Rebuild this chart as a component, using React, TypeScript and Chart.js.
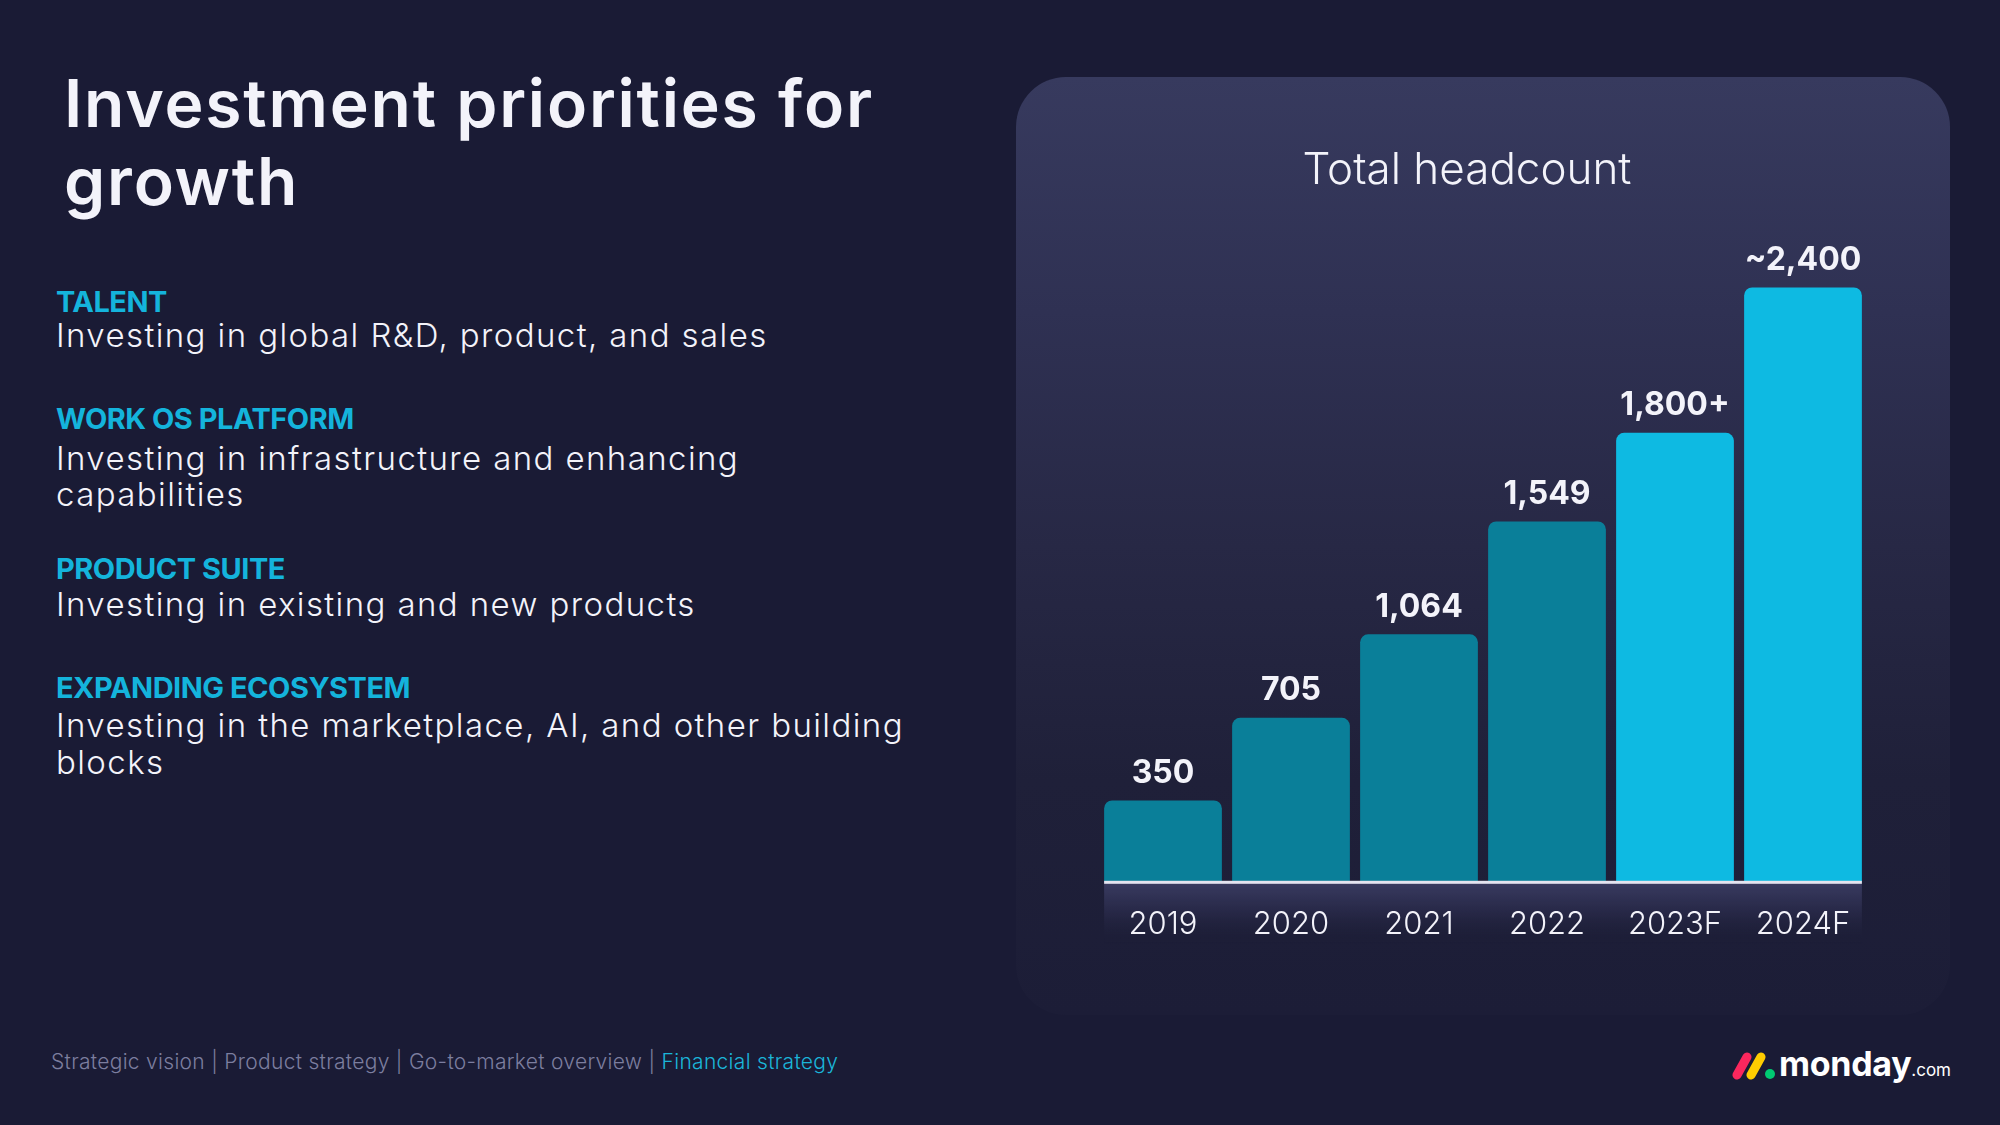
import React, { useEffect, useRef } from "react";
import { Chart, registerables } from "chart.js";

Chart.register(...registerables);

// ---- data ----
const years = ["2019", "2020", "2021", "2022", "2023F", "2024F"];
const headcount = [350, 705, 1064, 1549, 1930, 2555];
const valueLabels = ["350", "705", "1,064", "1,549", "1,800+", "~2,400"];
const isForecast = [false, false, false, false, true, true];
const chartTitle = "Total headcount";

const priorities = [
  { head: "TALENT", lines: ["Investing in global R&D, product, and sales"] },
  { head: "WORK OS PLATFORM", lines: ["Investing in infrastructure and enhancing", "capabilities"] },
  { head: "PRODUCT SUITE", lines: ["Investing in existing and new products"] },
  { head: "EXPANDING ECOSYSTEM", lines: ["Investing in the marketplace, AI, and other building", "blocks"] },
];
const headTops = [287, 404, 554, 673];
const bodyTops = [[319], [442, 478], [588], [709, 746]];

const footerItems = ["Strategic vision", "Product strategy", "Go-to-market overview", "Financial strategy"];

const BG = "#1A1B35";
const TEAL = "#0A7F99";
const CYAN = "#0EBAE2";
const WHITE = "#F3F3FA";
const FONT = "Inter, 'Noto Sans', sans-serif";

const decorPlugin = {
  id: "decorPlugin",
  beforeDraw(chart: any) {
    const meta = chart.getDatasetMeta(0);
    if (!meta.data.length) return;
    const first = meta.data[0];
    const last = meta.data[meta.data.length - 1];
    const x0 = first.x - first.width / 2;
    const x1 = last.x + last.width / 2;
    const yb = chart.chartArea.bottom;
    const ctx = chart.ctx;
    const g = ctx.createLinearGradient(0, yb, 0, yb + 62);
    g.addColorStop(0, "rgba(58,60,98,1)");
    g.addColorStop(0.5, "rgba(40,41,72,0.9)");
    g.addColorStop(1, "rgba(30,31,56,0.0)");
    ctx.save();
    ctx.fillStyle = g;
    ctx.fillRect(x0, yb, x1 - x0, 62);
    // chart title
    ctx.fillStyle = WHITE;
    ctx.font = `300 44px ${FONT}`;
    ctx.textAlign = "center";
    ctx.textBaseline = "middle";
    ctx.fillText(chartTitle, 451, 94);
    ctx.restore();
  },
  afterDatasetsDraw(chart: any) {
    const meta = chart.getDatasetMeta(0);
    const ctx = chart.ctx;
    const first = meta.data[0];
    const last = meta.data[meta.data.length - 1];
    const x0 = first.x - first.width / 2;
    const x1 = last.x + last.width / 2;
    const yb = chart.chartArea.bottom;
    ctx.save();
    ctx.fillStyle = "#E4E4F0";
    ctx.fillRect(x0, yb - 1, x1 - x0, 3);
    ctx.fillStyle = WHITE;
    ctx.font = `700 32px ${FONT}`;
    ctx.textAlign = "center";
    ctx.textBaseline = "middle";
    meta.data.forEach((bar: any, i: number) => {
      ctx.fillText(valueLabels[i], bar.x, bar.y - 27);
    });
    ctx.restore();
  },
};

function HeadcountChart() {
  const ref = useRef<HTMLCanvasElement | null>(null);
  useEffect(() => {
    if (!ref.current) return;
    const chart = new Chart(ref.current, {
      type: "bar",
      data: {
        labels: years,
        datasets: [
          {
            data: headcount,
            backgroundColor: isForecast.map((f) => (f ? CYAN : TEAL)),
            borderRadius: 8,
            barPercentage: 0.92,
            categoryPercentage: 1,
          },
        ],
      },
      options: {
        responsive: false,
        animation: false,
        layout: { padding: { left: 83, right: 83, top: 200, bottom: 48 } },
        plugins: {
          legend: { display: false },
          tooltip: { enabled: false },
          title: { display: false },
        },
        scales: {
          x: {
            grid: { display: false, drawTicks: false },
            border: { display: false },
            ticks: {
              color: WHITE,
              font: { family: FONT, size: 31, weight: "300", lineHeight: 1.2 },
              padding: 24,
            },
          },
          y: { display: false, min: 0, max: 2600 },
        },
      },
      plugins: [decorPlugin],
    });
    return () => chart.destroy();
  }, []);
  return (
    <canvas
      ref={ref}
      width={934}
      height={938}
      style={{ position: "absolute", left: 1016, top: 77, width: 934, height: 938 }}
    />
  );
}

function Logo() {
  return (
    <>
      <svg
        width={46}
        height={32}
        viewBox="0 0 46 32"
        style={{ position: "absolute", left: 1731, top: 1048 }}
      >
        <line x1={6} y1={27} x2={16} y2={9} stroke="#FB275D" strokeWidth={9} strokeLinecap="round" />
        <line x1={20} y1={27} x2={30} y2={9} stroke="#FFCC00" strokeWidth={9} strokeLinecap="round" />
        <circle cx={39} cy={26} r={5} fill="#00CA72" />
      </svg>
      <div
        style={{
          position: "absolute",
          left: 1779,
          top: 1047,
          fontFamily: FONT,
          fontWeight: 700,
          fontSize: 34,
          lineHeight: 1,
          color: "#FFFFFF",
          letterSpacing: -0.3,
          whiteSpace: "nowrap",
        }}
      >
        monday
        <span style={{ fontSize: 17, fontWeight: 400, letterSpacing: 0 }}>.com</span>
      </div>
    </>
  );
}

export default function App() {
  return (
    <div
      style={{
        position: "fixed",
        left: 0,
        top: 0,
        width: 2000,
        height: 1125,
        background: BG,
        overflow: "hidden",
        fontFamily: FONT,
      }}
    >
      {["Investment priorities for", "growth"].map((t, i) => (
        <div
          key={t}
          style={{
            position: "absolute",
            left: 64,
            top: 70 + i * 78,
            fontSize: 66,
            fontWeight: 600,
            lineHeight: 1,
            color: WHITE,
            whiteSpace: "nowrap",
            letterSpacing: 1.8,
          }}
        >
          {t}
        </div>
      ))}

      {priorities.map((p, i) => (
        <React.Fragment key={p.head}>
          <div
            style={{
              position: "absolute",
              left: 56,
              top: headTops[i],
              fontSize: 29,
              fontWeight: 700,
              lineHeight: 1,
              color: "#14B4DC",
              whiteSpace: "nowrap",
              letterSpacing: -0.5,
            }}
          >
            {p.head}
          </div>
          {p.lines.map((l, j) => (
            <div
              key={l}
              style={{
                position: "absolute",
                left: 56,
                top: bodyTops[i][j],
                fontSize: 33,
                fontWeight: 300,
                lineHeight: 1,
                color: WHITE,
                whiteSpace: "nowrap",
                letterSpacing: 1.4,
              }}
            >
              {l}
            </div>
          ))}
        </React.Fragment>
      ))}

      <div
        style={{
          position: "absolute",
          left: 51,
          top: 1051,
          fontSize: 21,
          fontWeight: 300,
          lineHeight: 1,
          color: "#7C7E9F",
          whiteSpace: "nowrap",
          letterSpacing: 0.3,
        }}
      >
        {footerItems.map((f, i) => (
          <span key={f}>
            {i > 0 ? " | " : ""}
            <span style={{ color: i === footerItems.length - 1 ? "#1BB5D9" : "#7C7E9F" }}>{f}</span>
          </span>
        ))}
      </div>

      <div
        style={{
          position: "absolute",
          left: 1016,
          top: 77,
          width: 934,
          height: 938,
          borderRadius: 50,
          background:
            "linear-gradient(180deg, #373A5E 0%, #2F3153 25%, #272845 50%, #1F2039 75%, #1C1D37 100%)",
        }}
      />
      <HeadcountChart />
      <Logo />
    </div>
  );
}
